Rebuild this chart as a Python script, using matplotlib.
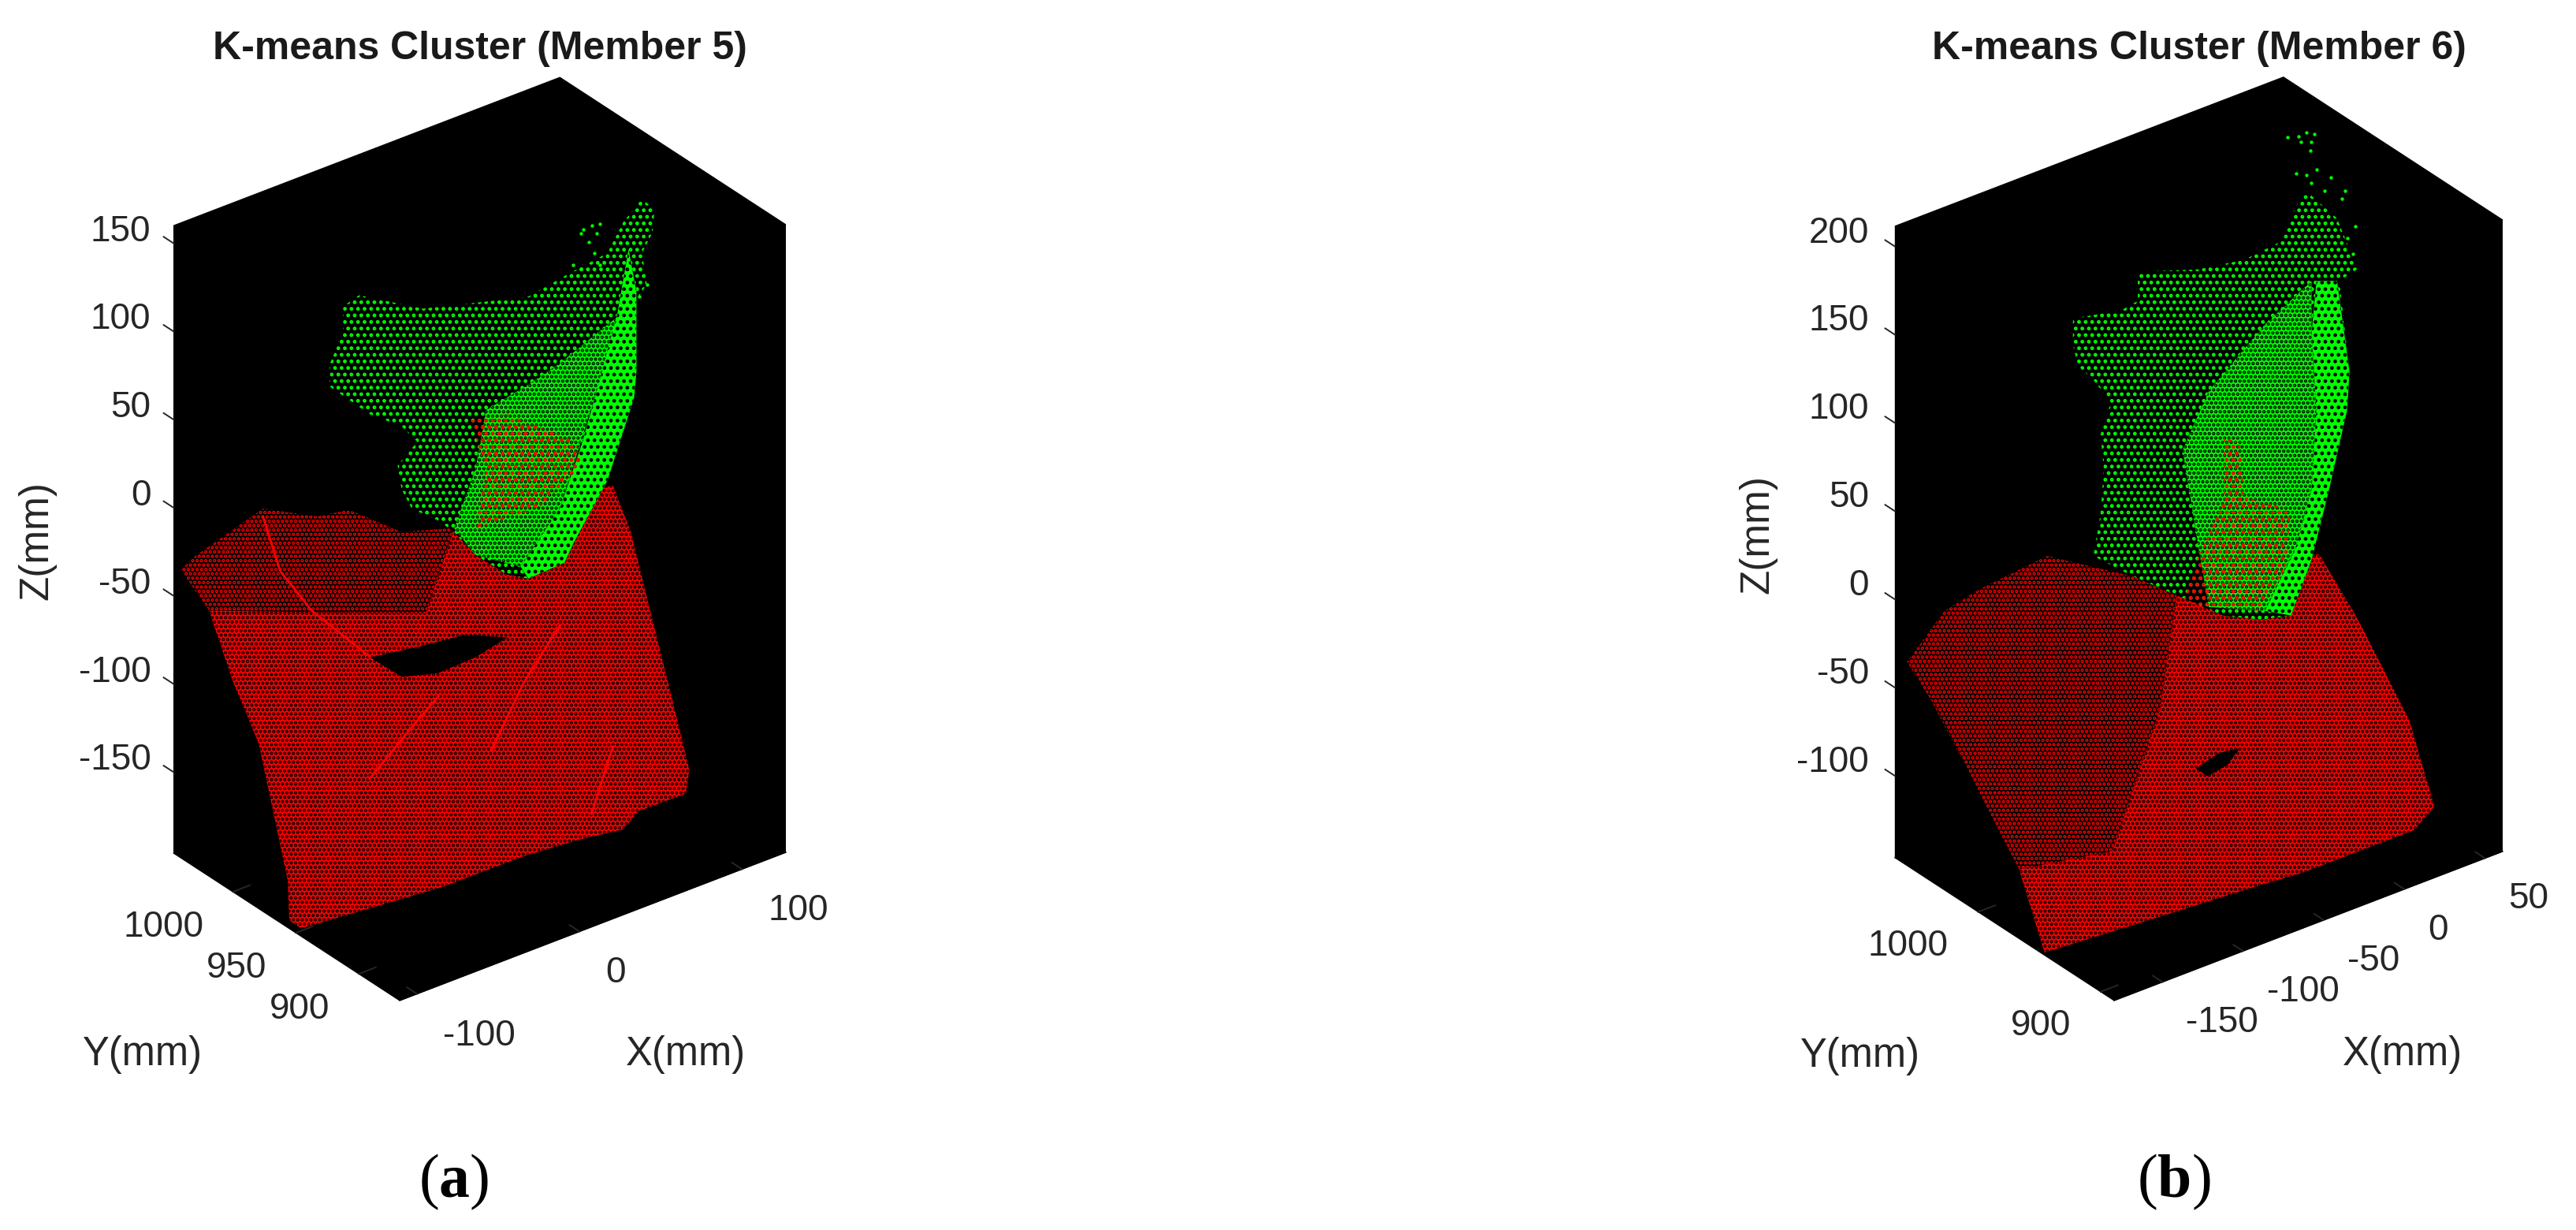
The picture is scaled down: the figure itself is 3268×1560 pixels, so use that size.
import matplotlib
matplotlib.use("Agg")
import matplotlib.pyplot as plt
from mpl_toolkits.mplot3d import proj3d
from mpl_toolkits.mplot3d.art3d import Poly3DCollection

plt.rcParams["font.family"] = ["Liberation Sans", "DejaVu Sans"]
plt.rcParams["hatch.linewidth"] = 2.2
plt.rcParams["mathtext.fontset"] = "custom"
plt.rcParams["mathtext.rm"] = "Liberation Serif"
plt.rcParams["mathtext.bf"] = "Liberation Serif:bold"

# The clouds hold thousands of points that can't be read one by one, so each
# cluster is stored as the outline of its regions (x, y, z in mm, estimated from
# the picture) and drawn with a dot hatch. Only stray points are real scatter points.

# Member 5
a_xlim = (-110.7, 127)
a_ylim = (867.5, 1047)
a_zlim = (-196, 160)
a_xticks = [-100, 0, 100]
a_yticks = [900, 950, 1000]
a_zticks = [-150, -100, -50, 0, 50, 100, 150]

a_red_top = [(-108.3, 1044.5, -34.8), (-98.1, 1045.6, -30.9), (-55.8, 1046.9, -19.9), (-29.6, 1037.6, -29.3),
             (-12.5, 1034.7, -30.2), (10.4, 1022.2, -45), (37.9, 1015.8, -49.5), (8.3, 1000.1, -80.2), (-101.2, 1031.1, -54.4)]
a_red_low = [(37.9, 1015.8, -49.5), (70.6, 1011.6, -49.2), (125.8, 1003.3, -50.7), (126.6, 989.9, -71.7),
             (122.5, 969.7, -104.3), (118.3, 948, -139.3), (114, 927.4, -172.6), (108.1, 922.5, -181.6),
             (81, 925.1, -183.2), (69.8, 923.1, -188.7), (46.9, 926.7, -187.7), (14.2, 930.9, -188),
             (-31.5, 935.1, -190.9), (-110.9, 945.5, -191.3), (-115.5, 948.9, -186.7), (-109.3, 958.1, -170.9),
             (-99.6, 993.7, -112.9), (-101.7, 1011.6, -85.1), (-101.2, 1031.1, -54.4), (8.3, 1000.1, -80.2)]
a_hole = [(-27.9, 998, -91.1), (-2, 993.7, -92.4), (24.2, 989.9, -93), (45.3, 983.4, -98.9),
          (25.8, 983.3, -103.1), (4.2, 984.9, -105.2), (-15.3, 989.1, -102.6)]
a_streaks = [[(-57.2, 1045.1, -23.1), (-58.1, 1030.2, -46.8), (-49.2, 1016.8, -66), (-27.9, 998, -91.1)],
             [(74.2, 978.7, -100.1), (45, 970.4, -119.3), (17.1, 959.5, -142.3)],
             [(79.4, 943.5, -154.5), (56.6, 931, -178.8)],
             [(0, 979.5, -114.5), (-19.1, 976.1, -123.9), (-49.6, 970.1, -139.5)]]
a_green = [(92.7, 937.4, 154.5), (99.4, 936.1, 146), (98.9, 937.4, 132.6), (94.3, 939.5, 122.1), (97.6, 940, 102.9),
           (92.8, 942.1, 94.6), (94.9, 944.7, 52.4), (94.5, 946.1, 36.7), (83.3, 952.9, -9.5), (67.9, 959.9, -42.7),
           (64, 962, -53.4), (46.1, 967.6, -58.7), (35.2, 970.4, -53.9), (18.6, 974.1, -38.6), (7.1, 976.1, -22.6),
           (-1.2, 977.9, -13.9), (-15.2, 981.1, -3.7), (-20.9, 981.9, 9.1), (-23.6, 981.5, 23.7), (-14.3, 977.9, 35.5),
           (-22.8, 979.5, 46.6), (-39.1, 983.5, 57.2), (-60.3, 987.9, 78.3), (-61, 987.1, 91.9), (-55.1, 984.1, 109.1),
           (-55.9, 983.1, 124.6), (-48.2, 980.5, 129.4), (-15.4, 972.1, 114.1), (11.2, 964.6, 111.5),
           (37.8, 956.9, 109.2), (58.3, 950.2, 118.5), (76.7, 944.3, 126), (83.8, 940.9, 142.6)]
a_green_mid = [(19.6, 967.1, 46.5), (40.4, 960.3, 56.7), (55.8, 955.1, 65.8), (86.4, 944.3, 89.1), (75.5, 951, 45.6),
               (60, 960.5, -20.5), (41.8, 968.2, -50.7), (18.6, 974.1, -38.6), (7, 976, -20.3), (16.1, 970.8, 12.5)]
a_green_dense = [(87.3, 941.2, 126), (92.6, 941.8, 99.3), (94.9, 944.7, 52.4), (94.5, 946.1, 36.7), (83.3, 952.9, -9.5),
                 (67.9, 959.9, -42.7), (64, 962, -53.4), (46.1, 967.6, -58.7), (41.8, 968.2, -50.7), (60, 960.5, -20.5),
                 (69.1, 955.2, 14.6), (75.5, 951, 45.6), (83.6, 945.1, 89.7)]
a_red_patch = [(11.9, 969.7, 42.2), (30.5, 964.4, 41.7), (66.1, 955.8, 17.5), (69.7, 956, 2.9),
               (49.2, 963.5, -18.1), (17.8, 973.1, -22.7), (21.3, 969.3, 11.3)]
a_stray_x = [63.9, 67.9, 71.8, 62.9, 67.1, 70.9, 69.9, 59.7, 63.9, 73, 97.6, 93.9]
a_stray_y = [946.7, 945.5, 944.3, 947.3, 946.5, 945.1, 946.2, 949.4, 948.6, 945.8, 940, 941.5]
a_stray_z = [142.8, 144.2, 144.3, 140.7, 134.7, 138.9, 127.6, 122.9, 119.6, 119.9, 102.9, 96.7]

# Member 6
b_xlim = (-180, 61)
b_ylim = (889, 1068)
b_zlim = (-146.4, 211.4)
b_xticks = [-150, -100, -50, 0, 50]
b_yticks = [900, 1000]
b_zticks = [-100, -50, 0, 50, 100, 150, 200]

b_red_top = [(-177, 1062, -33.8), (-145.4, 1073.3, -21.4), (-122.8, 1075.4, -18.1), (-79.3, 1076.3, -14.5),
             (-53, 1062.7, -25.5), (-21, 1046.1, -39), (-61.1, 1008, -76.7), (-121.3, 967.5, -117.9),
             (-173.1, 975.6, -113.7), (-174.1, 1029, -64.2), (-174.5, 1045.4, -49.1)]
b_red_low = [(-21, 1046.1, -39), (17, 1039.9, -42.3), (58.7, 1036, -43.5), (61.4, 1011.8, -65.7), (61.8, 1003.9, -73),
             (62.1, 966.9, -107.3), (52.8, 934, -138.4), (36.4, 929.1, -143.9), (-31.3, 931.7, -145.6),
             (-55.1, 934, -145.1), (-106.5, 937.9, -144.5), (-181.4, 944, -143.6), (-173.1, 975.6, -113.7),
             (-121.3, 967.5, -117.9), (-61.1, 1008, -76.7)]
b_hole = [(-58.2, 982.9, -99.9), (-42.2, 984.6, -97.3), (-31.2, 982.9, -98.1), (-41.2, 979.4, -102.1), (-54.2, 978.5, -103.7)]
b_green = [(34.8, 1015, 180.1), (50.1, 1009.9, 161.5), (58.4, 1004.2, 132.4), (48, 1005.2, 128.9), (48.5, 997.6, 80.7),
           (45.1, 995.1, 61.2), (31, 991.2, 23.1), (17.7, 988, -10.6), (3.5, 986.1, -36.5), (-13.5, 988.9, -34.1),
           (-33, 992.9, -26.9), (-81.1, 1005.1, 7.2), (-100.6, 1010.4, 22.8), (-94.4, 1012.7, 43.7), (-90.3, 1015.5, 65.7),
           (-90.1, 1018.4, 84.4), (-82.8, 1019.6, 99.2), (-91, 1023, 113.5), (-98.7, 1025.6, 123), (-100.2, 1027.7, 134.7),
           (-98.8, 1029.5, 148.1), (-72.1, 1025.2, 145.3), (-62.6, 1024.2, 147.8), (-61, 1026.3, 162.8),
           (-27.9, 1020.3, 155.2), (-2.5, 1016.3, 153.6), (18.3, 1013.9, 157.7), (28.3, 1014.9, 173.5)]
b_green_mid = [(5.2, 1009.6, 117.3), (32.9, 1008, 132.9), (30.1, 1004.3, 106.5), (28.4, 998.2, 65.6), (21.5, 993, 25.6),
               (9.7, 990.4, -2.2), (-10.4, 989, -30.3), (-40.7, 995, -20.2), (-43.1, 1000.2, 11.7), (-46.4, 1008.9, 64.4),
               (-28.9, 1010.5, 91.2)]
b_green_dense = [(46.7, 1005.4, 129.3), (48.5, 997.6, 80.7), (45.1, 995.1, 61.2), (31, 991.2, 23.1), (17.7, 988, -10.6),
                 (3.5, 986.1, -36.5), (-10.4, 989, -30.3), (9.7, 990.4, -2.2), (21.5, 993, 25.6), (28.4, 998.2, 65.6),
                 (30.1, 1004.3, 106.5), (35.5, 1007.5, 132.2)]
b_red_patch = [(-23.3, 1005.6, 64.6), (-14.9, 1003.7, 60.3), (-15.4, 999.3, 31.2), (9.3, 993.7, 18.4), (3.1, 990, -11),
               (-13, 989.5, -29.6), (-54.7, 997.9, -14.5), (-43.5, 999.7, 7.6), (-26.8, 1001.1, 32.1)]
b_stray_x = [27.9, 33.8, 38.1, 42.2, 34.8, 40.4, 39.3, 30.3, 35.7, 41.7, 49, 38.1, 44.7, 54, 55.8, 59.5, 54.6, 56.6]
b_stray_y = [1021.4, 1019.9, 1019.2, 1018.3, 1019, 1018, 1017.5, 1017.3, 1016.1, 1015.5, 1013.5, 1015, 1013.2, 1010.8,
             1011.1, 1007.5, 1007.5, 1005.8]
b_stray_z = [210, 209, 210, 208.4, 206.2, 204.7, 200.2, 190.7, 188.3, 189.8, 183.6, 183.4, 177.6, 170.9, 174.6, 155, 150, 141.1]

RED = "#ff0000"
GREEN = "#00ff00"
TEXT = "#262626"
CLEAR = (0, 0, 0, 0)
W, H = 3268, 1560

fig = plt.figure(figsize=(W / 100, H / 100), dpi=100, facecolor="white")


def label(px, py, text, ha="center", **kw):
    fig.text(px / W, 1 - py / H, text, ha=ha, va="center", **kw)


def region(ax, verts, color, hatch, order, face=CLEAR):
    poly = Poly3DCollection([verts], facecolors=[face], edgecolors=[color], linewidths=0, hatch=hatch, zorder=order)
    ax.add_collection3d(poly)


def make_panel(xlim, ylim, zlim, xticks, yticks, zticks, box, apex, span, offsets):
    ax = fig.add_axes([0.1, 0.1, 0.5, 0.5 * W / H], projection="3d", proj_type="ortho", computed_zorder=False)
    ax.view_init(elev=30, azim=-127.5)
    ax.set_box_aspect(box)
    ax.set_xlim(*xlim)
    ax.set_ylim(*ylim)
    ax.set_zlim(*zlim)
    ax.patch.set_alpha(0)
    ax.grid(False)
    ax.zaxis._get_tickdir = lambda pos: 1
    for axis in (ax.xaxis, ax.yaxis, ax.zaxis):
        axis.set_pane_color("black")
        axis.pane.set_edgecolor("black")
        axis.line.set_color("black")
        axis._axinfo["tick"].update(inward_factor=0, outward_factor=0.55, linewidth={True: 1.4, False: 1.4})
    ax.set_xticks(xticks)
    ax.set_yticks(yticks)
    ax.set_zticks(zticks)
    ax.xaxis.set_ticklabels([])
    ax.yaxis.set_ticklabels([])
    ax.zaxis.set_ticklabels([])
    ax.tick_params(colors=TEXT)

    # fit the box onto its place in the picture
    def corner_px(x, y, z):
        ax.apply_aspect()
        px, py, _ = proj3d.proj_transform(x, y, z, ax.get_proj())
        return ax.transData.transform((px, py))

    p0 = corner_px(xlim[0], ylim[0], zlim[0])
    p1 = corner_px(xlim[1], ylim[0], zlim[0])
    pos = ax.get_position()
    k = span / (p1[0] - p0[0])
    ax.set_position([pos.x0, pos.y0, pos.width * k, pos.height * k])
    p0 = corner_px(xlim[0], ylim[0], zlim[0])
    pos = ax.get_position()
    ax.set_position([pos.x0 + (apex[0] - p0[0]) / W, pos.y0 + (H - apex[1] - p0[1]) / H, pos.width, pos.height])

    # tick labels sit at MATLAB's offsets, measured from each tick's foot on the box
    for t in xticks:
        p = corner_px(t, ylim[0], zlim[0])
        label(p[0] + offsets["x"][0], H - p[1] + offsets["x"][1], str(t), ha="left", fontsize=33, color=TEXT)
    for t in yticks:
        p = corner_px(xlim[0], t, zlim[0])
        label(p[0] + offsets["y"][0], H - p[1] + offsets["y"][1], str(t), ha="right", fontsize=33, color=TEXT)
    for t in zticks:
        p = corner_px(xlim[0], ylim[1], t)
        label(p[0] + offsets["z"][0], H - p[1] + offsets["z"][1], str(t), ha="right", fontsize=33, color=TEXT)
    return ax


ax_a = make_panel(a_xlim, a_ylim, a_zlim, a_xticks, a_yticks, a_zticks, (617.6, 471, 919), (507, 1269), 490,
                  {"x": (33, 53), "y": (-37, 45), "z": (-29, -15)})
region(ax_a, a_red_top, RED, "...", 2)
region(ax_a, a_red_low, "black", "...", 2, face=RED)
for s in a_streaks:
    sx, sy, sz = zip(*s)
    ax_a.plot(sx, sy, sz, color=RED, lw=2, zorder=2.5)
region(ax_a, a_hole, "black", None, 3, face="black")
region(ax_a, a_green, GREEN, "..", 4, face="black")
region(ax_a, a_green_mid, "black", "...", 5, face=GREEN)
region(ax_a, a_green_dense, "black", "..", 6, face=GREEN)
region(ax_a, a_red_patch, RED, "..", 7)
ax_a.scatter(a_stray_x, a_stray_y, a_stray_z, c=GREEN, s=10, depthshade=False, linewidths=0, zorder=8)

ax_b = make_panel(b_xlim, b_ylim, b_zlim, b_xticks, b_yticks, b_zticks, (621, 456.6, 924), (2682, 1269), 493,
                  {"x": (30, 52), "y": (-38, 43), "z": (-33, -17)})
region(ax_b, b_red_top, RED, "...", 2)
region(ax_b, b_red_low, "black", "...", 2, face=RED)
region(ax_b, b_hole, "black", None, 3, face="black")
region(ax_b, b_green, GREEN, "..", 4, face="black")
region(ax_b, b_green_mid, "black", "...", 5, face=GREEN)
region(ax_b, b_green_dense, "black", "..", 6, face=GREEN)
region(ax_b, b_red_patch, RED, "..", 7)
ax_b.scatter(b_stray_x, b_stray_y, b_stray_z, c=GREEN, s=10, depthshade=False, linewidths=0, zorder=8)

label(609, 62, "K-means Cluster (Member 5)", fontsize=36, fontweight="bold", color="#1a1a1a")
label(2790, 62, "K-means Cluster (Member 6)", fontsize=36, fontweight="bold", color="#1a1a1a")
for zx, xy, yy, zl in [(47, (870, 1337), (181, 1337), 686), (2230, (3048, 1337), (2360, 1340), 678)]:
    label(xy[0], xy[1], "X(mm)", fontsize=36.5, color=TEXT)
    label(yy[0], yy[1], "Y(mm)", fontsize=36.5, color=TEXT)
    label(zx, zl, "Z(mm)", fontsize=37, color=TEXT, rotation=90)
label(576, 1499, r"($\mathbf{a}$)", fontsize=56, family="Liberation Serif", color="black")
label(2758, 1499, r"($\mathbf{b}$)", fontsize=56, family="Liberation Serif", color="black")

fig.savefig("out.png", dpi=100)
